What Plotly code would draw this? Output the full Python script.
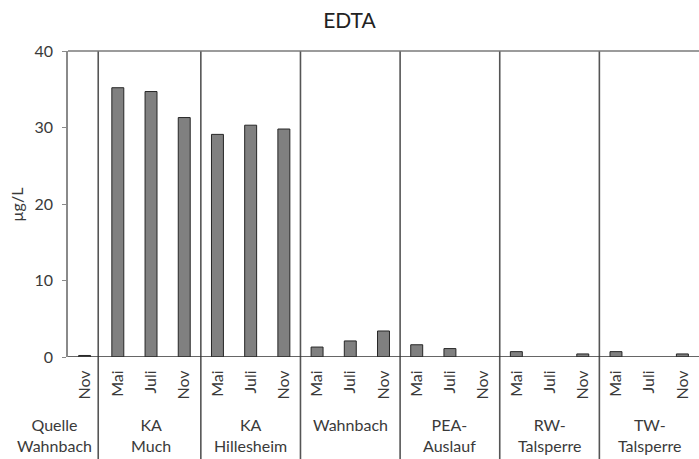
import plotly.graph_objects as go

# Sampling sites and months
sites = ["Quelle<br>Wahnbach", "KA<br>Much", "KA<br>Hillesheim", "Wahnbach",
         "PEA-<br>Auslauf", "RW-<br>Talsperre", "TW-<br>Talsperre"]
site_months = [["Nov"], ["Mai", "Juli", "Nov"], ["Mai", "Juli", "Nov"],
               ["Mai", "Juli", "Nov"], ["Mai", "Juli", "Nov"],
               ["Mai", "Juli", "Nov"], ["Mai", "Juli", "Nov"]]
# EDTA concentration in µg/L (None = no value)
edta = [[0.2], [35.2, 34.7, 31.3], [29.1, 30.3, 29.8], [1.3, 2.1, 3.4],
        [1.6, 1.1, None], [0.7, None, 0.4], [0.7, None, 0.4]]
y_ticks = [0, 10, 20, 30, 40]

FONT = "Lato, 'Open Sans', sans-serif"
TXT = "#3a3a3a"
FS = 16

xs, ys, labels = [], [], []
centers, bounds = [], []
i = 0
for months, vals in zip(site_months, edta):
    start = i
    for m, v in zip(months, vals):
        xs.append(i)
        ys.append(v)
        labels.append(m)
        i += 1
    centers.append((start + i - 1) / 2)
    bounds.append(i - 0.5)
n = i

fig = go.Figure(go.Bar(
    x=xs, y=ys, width=0.36,
    marker=dict(color="#808080", line=dict(color="#262626", width=1)),
))

shapes = []
# group dividers running through the label area
for k, b in enumerate(bounds[:-1]):
    xb = b - 0.09 if k == 0 else b
    shapes.append(dict(type="line", xref="x", yref="paper", x0=xb, x1=xb,
                       y0=-0.34, y1=1, line=dict(color="#555555", width=1.6)))
# top frame line
shapes.append(dict(type="line", xref="paper", yref="paper", x0=0, x1=1,
                   y0=1, y1=1, line=dict(color="#7a7a7a", width=1.6)))
# zero line
shapes.append(dict(type="line", xref="paper", yref="y", x0=0, x1=1,
                   y0=0, y1=0, line=dict(color="#333333", width=1.6)))

annotations = []
for k, (c, s) in enumerate(zip(centers, sites)):
    annotations.append(dict(x=c, y=-0.183, xref="x", yref="paper", text=s,
                            xshift=-30 if k == 0 else 0,
                            showarrow=False, yanchor="top", xanchor="center",
                            font=dict(family=FONT, size=FS, color=TXT)))
# y-axis title
annotations.append(dict(x=-0.081, y=0.497, xref="paper", yref="paper",
                        text="µg/L", textangle=-90, showarrow=False,
                        xanchor="center", yanchor="middle",
                        font=dict(family=FONT, size=FS, color=TXT)))

fig.update_layout(
    width=699, height=459,
    margin=dict(l=68, r=0, t=51, b=102),
    paper_bgcolor="white", plot_bgcolor="white",
    showlegend=False,
    title=dict(text="EDTA", x=0.5, xref="container", xanchor="center",
               y=1 - 21 / 459, yref="container", yanchor="middle",
               font=dict(family=FONT, size=21, color="#222222")),
    shapes=shapes,
    annotations=annotations,
    font=dict(family=FONT, size=FS, color=TXT),
    xaxis=dict(range=[-0.5, n - 0.5], tickmode="array", tickvals=list(range(n)),
               ticktext=labels, tickangle=-90, showgrid=False, zeroline=False,
               showline=False, ticks="outside", ticklen=6, tickcolor="rgba(0,0,0,0)",
               tickfont=dict(family=FONT, size=FS, color=TXT)),
    yaxis=dict(range=[0, 40], tickvals=y_ticks, showgrid=False, zeroline=False,
               showline=True, linecolor="#8a8a8a", linewidth=1.6,
               ticks="outside", ticklen=4, tickcolor="#8a8a8a",
               ticklabelstandoff=6,
               tickfont=dict(family=FONT, size=FS, color=TXT)),
)

fig.write_html("out.html")
